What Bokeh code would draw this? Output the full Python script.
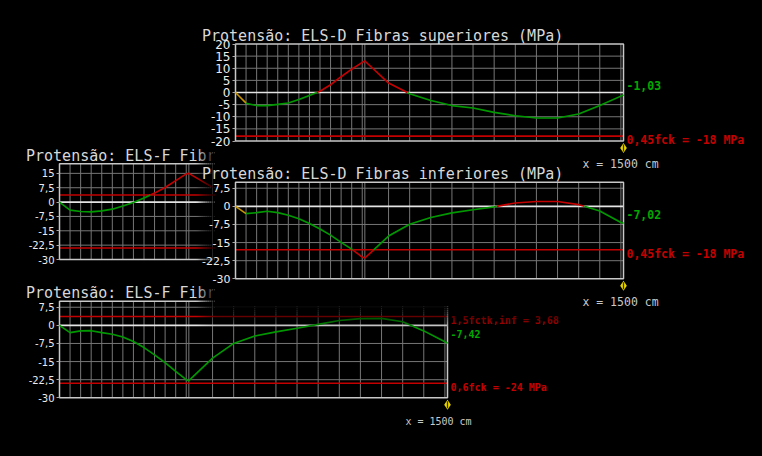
import numpy as np
from bokeh.plotting import figure
from bokeh.models import Range1d, LinearAxis, FixedTicker, CustomJSTickFormatter
from bokeh.core.properties import value
from bokeh.embed import file_html
from bokeh.resources import INLINE

W, H = 746, 440

# ---------------- data ----------------
# stations along the beam (cm)
X_CM = [0, 40.8, 81.7, 122.5, 163.3, 204.2, 245, 285.8, 326.7, 367.5, 408.3,
        449.2, 490, 500, 591.7, 673.3, 755, 836.7, 918.3, 1000, 1081.7,
        1163.3, 1245, 1326.7, 1408.3, 1490, 1500]
GRID_X = X_CM[1:-1]
CURSOR_X = 1500

# ELS-D fibras superiores (MPa)
SUP_D = [0, -4.4, -5.4, -5.4, -4.9, -4.3, -2.9, -1.2, 0.5, 3.2, 6.5, 9.6, 12.4, 13.0,
         3.9, -0.5, -3.3, -5.4, -6.4, -8.2, -9.6, -10.5, -10.5, -8.9, -5.4, -1.5, -1.03]
# ELS-D fibras inferiores (MPa)
INF_D = [0, -3.0, -2.6, -2.0, -2.6, -3.7, -5.1, -7.1, -9.4, -11.9, -14.9, -17.7, -21.0, -21.4,
         -12.3, -7.4, -4.6, -2.7, -1.4, -0.2, 1.4, 2.0, 2.0, 0.7, -1.9, -6.7, -7.02]
# ELS-F fibras superiores (MPa) - only the visible part
SUP_F = [0, -4.2, -4.9, -5.1, -4.6, -3.7, -2.1, -0.2, 2.1, 4.7, 7.6, 11.2, 14.7, 15.0, 7.7]
# ELS-F fibras inferiores (MPa)
INF_F = [0, -3.0, -2.3, -2.2, -3.0, -3.7, -4.8, -6.7, -9.2, -12.2, -15.4, -19.1, -22.5, -22.9,
         -13.6, -7.5, -4.4, -2.7, -1.2, 0.4, 2.0, 2.8, 2.9, 1.5, -2.3, -6.8, -7.42]

TICKS_D_SUP = [20, 15, 10, 5, 0, -5, -10, -15, -20]
TICKS_75 = [15, 7.5, 0, -7.5, -15, -22.5, -30]

LIM_D_LOW, LIM_D_HIGH = -18, 0
LIM_F_LOW, LIM_F_HIGH = -24, 3.68
LABEL_D_LOW = "0,45fck = -18 MPa"
LABEL_F_LOW = "0,6fck = -24 MPa"
LABEL_F_HIGH = "1,5fctk,inf = 3,68"

TITLES = {
    "A": "Protensão: ELS-D Fibras superiores (MPa)",
    "B": "Protensão: ELS-D Fibras inferiores (MPa)",
    "C": "Protensão: ELS-F Fibras superiores (MPa)",
    "D": "Protensão: ELS-F Fibras inferiores (MPa)",
}

# ---------------- styles ----------------
GREEN = "#009a00"
RED = "#c40000"
ORANGE = "#c89400"
GRID = "#767676"
FRAME = "#c8c8c8"
ZERO = "#e4e4e4"
TXT = "#d8d8d8"
MONO = "DejaVu Sans Mono"
SANS = "DejaVu Sans"

p = figure(width=W, height=H, output_backend="svg", toolbar_location=None,
           x_range=Range1d(0, W), y_range=Range1d(H, 0),
           x_axis_location=None, y_axis_location=None, min_border=0,
           background_fill_color="black", border_fill_color="black",
           outline_line_color=None)
p.xgrid.visible = False
p.ygrid.visible = False


def pieces(xs, ys, lo, hi, orange_first):
    out = []
    for i in range(len(xs) - 1):
        x0, y0, x1, y1 = xs[i], ys[i], xs[i + 1], ys[i + 1]
        ts = [0.0, 1.0]
        for th in (lo, hi):
            if (y0 - th) * (y1 - th) < 0:
                ts.append((th - y0) / (y1 - y0))
        ts.sort()
        for a, b in zip(ts[:-1], ts[1:]):
            xa, ya = x0 + (x1 - x0) * a, y0 + (y1 - y0) * a
            xb, yb = x0 + (x1 - x0) * b, y0 + (y1 - y0) * b
            ym = (ya + yb) / 2
            if orange_first and i == 0:
                c = ORANGE
            elif ym > hi + 1e-9 or ym < lo - 1e-9:
                c = RED
            else:
                c = GREEN
            if out and out[-1][2] == c:
                out[-1][0].append(xb)
                out[-1][1].append(yb)
            else:
                out.append(([xa, xb], [ya, yb], c))
    return out


def panel(name, xs, ys, ymin, ymax, ticks, box, lo, hi, lines, orange_first,
          tick_size, lab_size, cur_dx, show_end=True):
    px0, px1, pt, pb = box
    x0, x1 = 0, 1500
    kx = (px1 - px0) / (x1 - x0)
    ky = (pb - pt) / (ymax - ymin)
    xn, yn = name + "x", name + "y"
    p.extra_x_ranges[xn] = Range1d(x0 - px0 / kx, x0 + (W - px0) / kx)
    p.extra_y_ranges[yn] = Range1d(ymin - (H - pb) / ky, ymax + pt / ky)
    kw = dict(x_range_name=xn, y_range_name=yn)

    hg = [t for t in ticks if t not in (0, ymin, ymax)]
    p.segment(x0=GRID_X, y0=ymin, x1=GRID_X, y1=ymax, line_color=GRID, line_width=1, **kw)
    p.segment(x0=x0, y0=hg, x1=x1, y1=hg, line_color=GRID, line_width=1, **kw)
    p.segment(x0=[x0], y0=[0], x1=[x1], y1=[0], line_color=ZERO, line_width=1.6, **kw)
    lv = [v for v, _ in lines]
    p.segment(x0=x0, y0=lv, x1=x1, y1=lv, line_color=RED, line_width=1.6, **kw)
    p.quad(left=[x0], right=[x1], bottom=[ymin], top=[ymax], fill_color=None,
           line_color=FRAME, line_width=1.5, **kw)

    pcs = pieces(xs, ys, lo, hi, orange_first)
    p.multi_line(xs=[a for a, _, _ in pcs], ys=[b for _, b, _ in pcs],
                 line_color=[c for _, _, c in pcs], line_width=1.6, **kw)

    ax = LinearAxis(fixed_location=x0, bounds=(ymin, ymax),
                    ticker=FixedTicker(ticks=ticks),
                    formatter=CustomJSTickFormatter(code="return String(tick).replace('.', ',')"),
                    axis_line_color=None, major_tick_line_color="#a8a8a8",
                    major_tick_out=3, major_tick_in=0, minor_tick_line_color=None,
                    major_label_standoff=2, major_label_text_color="#ececec",
                    major_label_text_font=SANS, major_label_text_font_size=tick_size, **kw)
    p.add_layout(ax, "left")

    p.text(x=[x0], y=[ymax], text=[TITLES[name]], text_font=value(MONO),
           text_font_size=value("15px"), text_color=TXT, text_align="left",
           text_baseline="alphabetic", x_offset=-33.5, y_offset=-8, **kw)

    for v, lab in lines:
        p.text(x=[x1], y=[v], text=[lab], text_font=value(MONO), text_font_style="bold",
               text_font_size=value(lab_size), text_color=RED, text_align="left",
               text_baseline="middle", x_offset=3, y_offset=4, **kw)
    if show_end:
        end_lab = ("%.2f" % ys[-1]).replace(".", ",")
        p.text(x=[xs[-1]], y=[ys[-1]], text=[end_lab], text_font=value(MONO),
               text_font_style="bold", text_font_size=value(lab_size), text_color="#00a800",
               text_align="left", text_baseline="middle", x_offset=3, y_offset=-9, **kw)

    # cursor
    cy = ymin - 7 / ky
    p.scatter(x=[CURSOR_X], y=[cy], marker="diamond", size=10, fill_color="#e8d400",
              line_color=None, **kw)
    p.scatter(x=[CURSOR_X], y=[cy], marker="dash", angle=np.pi / 2, size=7,
              line_color="#303000", line_width=1.2, **kw)
    p.text(x=[CURSOR_X], y=[ymin], text=["x = %d cm" % CURSOR_X], text_font=value(MONO),
           text_font_size=value(lab_size), text_color="#c8c8c8", text_align="center",
           text_baseline="middle", x_offset=cur_dx, y_offset=23.4, **kw)


# panels partly hidden (drawn first)
panel("C", X_CM[:len(SUP_F)], SUP_F, -30, 20, TICKS_75, (59, 447, 163.3, 259),
      LIM_F_LOW, LIM_F_HIGH, [(LIM_F_HIGH, ""), (LIM_F_LOW, "")], False,
      "10px", "10px", -9, show_end=False)
panel("D", X_CM, INF_F, -30, 10, TICKS_75[1:], (59, 447, 300.7, 397.3),
      LIM_F_LOW, LIM_F_HIGH, [(LIM_F_HIGH, LABEL_F_HIGH), (LIM_F_LOW, LABEL_F_LOW)], False,
      "10px", "10px", -9)

# black backdrop of the upper-right panels, with soft edges
xl0, xl1, nbx = 196, 214, 9
yb0, yb1, nby = 306, 328, 11
xb = [(xl0 + (xl1 - xl0) * i / nbx, xl0 + (xl1 - xl0) * (i + 1) / nbx, (i + 0.5) / nbx) for i in range(nbx)]
xb.append((xl1, W, 1.0))
yb = [(0, yb0, 1.0)]
yb += [(yb0 + (yb1 - yb0) * j / nby, yb0 + (yb1 - yb0) * (j + 1) / nby, 1 - (j + 0.5) / nby) for j in range(nby)]
L, R, T, B, A = [], [], [], [], []
for (a, b, al) in xb:
    for (c, d, bl) in yb:
        L.append(a); R.append(b); T.append(c); B.append(d); A.append(al * bl)
p.quad(left=L, right=R, top=T, bottom=B, fill_color="black", fill_alpha=A, line_color=None)

# panels on top
panel("A", X_CM, SUP_D, -20, 20, TICKS_D_SUP, (235, 623, 43.5, 140.5),
      LIM_D_LOW, LIM_D_HIGH, [(LIM_D_LOW, LABEL_D_LOW)], True,
      "12px", "11.5px", -3)
panel("B", X_CM, INF_D, -30, 10, TICKS_75[1:], (235, 623, 181.7, 278.3),
      LIM_D_LOW, LIM_D_HIGH, [(LIM_D_LOW, LABEL_D_LOW)], True,
      "11px", "11.5px", -3)

html = file_html(p, INLINE, title="Protensão")
html = html.replace("</head>", "<style>html,body{margin:0;padding:0;background:#000;}</style></head>", 1)
open("out.html", "w").write(html)
